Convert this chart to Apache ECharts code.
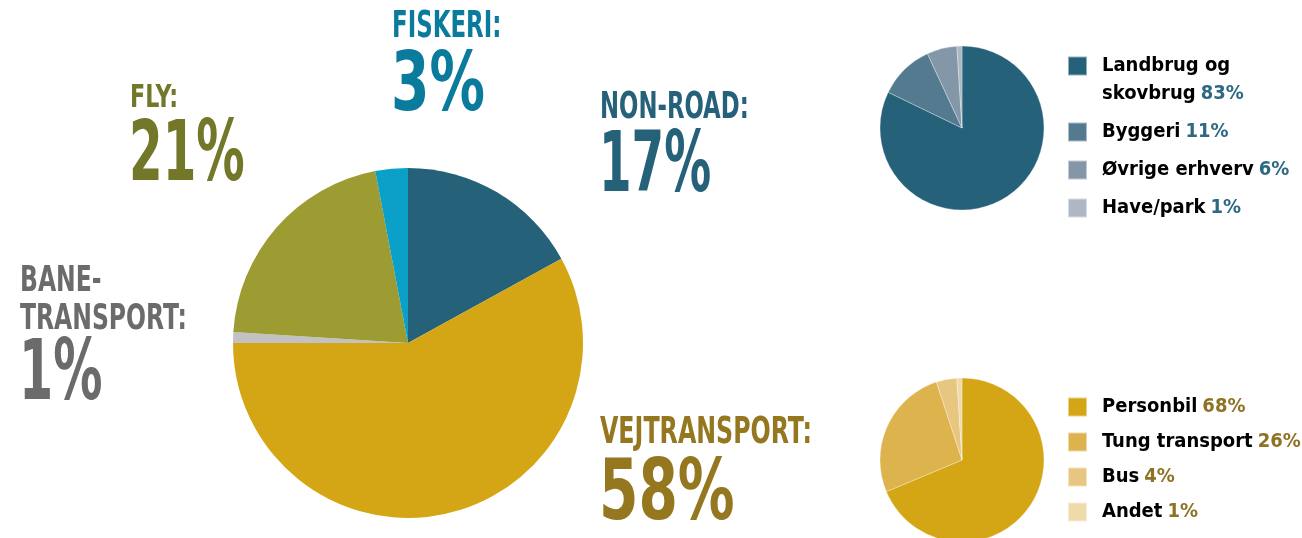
<!DOCTYPE html>
<html>
<head>
<meta charset="utf-8">
<script src="https://cdn.jsdelivr.net/npm/echarts@6/dist/echarts.min.js"></script>
<style>
  html, body { margin: 0; padding: 0; background: #fff; }
  #chart { width: 1302px; height: 538px; }
</style>
</head>
<body>
<div id="chart"></div>
<script>
// main pie: share of emissions per sector (%)
var mainNames = ['NON-ROAD', 'VEJTRANSPORT', 'BANETRANSPORT', 'FLY', 'FISKERI'];
var mainValues = [17, 58, 1, 21, 3];
var mainTitles = ['NON-ROAD:', 'VEJTRANSPORT:', 'BANE-\nTRANSPORT:', 'FLY:', 'FISKERI:'];

// non-road breakdown
var nonRoadNames = ['Landbrug og skovbrug', 'Byggeri', 'Øvrige erhverv', 'Have/park'];
var nonRoadValues = [83, 11, 6, 1];

// road transport breakdown
var roadNames = ['Personbil', 'Tung transport', 'Bus', 'Andet'];
var roadValues = [68, 26, 4, 1];

var mainColors = ['#26617a', '#d4a514', '#c2c2c2', '#9c9c32', '#0aa0c8'];
var mainTextColors = ['#26617a', '#94771f', '#6b6b6b', '#72772a', '#0a7b9c'];
var nonRoadColors = ['#26617a', '#547a90', '#8497a8', '#adb8c4'];
var roadColors = ['#d4a514', '#ddb34d', '#e7c67f', '#efdaaa'];

var FONT = "'Liberation Sans Narrow', 'DejaVu Sans Condensed', 'Roboto', sans-serif";

var chart = echarts.init(document.getElementById('chart'));

function pieData(names, values, colors) {
    return names.map(function (n, i) {
        return { name: n, value: values[i], itemStyle: { color: colors[i] } };
    });
}

// big sector labels: [index, x, titleCapCenterY, numberCapCenterY, titleSize, numSize, titleScale, numScale]
var labelPos = [
    [0, 600, 107, 162, 37, 84, 0.684, 0.62],
    [1, 600, 432, 490, 37, 84, 0.713, 0.75],
    [2, 20, 281, 370, 35, 84, 0.746, 0.65],
    [3, 130, 97, 151, 32, 84, 0.77, 0.64],
    [4, 392, 26, 81, 38, 82, 0.67, 0.75]
];

var graphics = [];
labelPos.forEach(function (p) {
    var i = p[0];
    var lines = mainTitles[i].split('\n').length;
    var lineH = p[4] * 1.06;
    graphics.push({
        type: 'text',
        x: p[1],
        y: p[2] + p[4] * 0.04 + (lines - 1) * lineH / 2,
        scaleX: p[6],
        style: {
            text: mainTitles[i],
            fill: mainTextColors[i],
            font: 'bold ' + p[4] + 'px ' + FONT,
            lineHeight: lineH,
            align: 'left',
            verticalAlign: 'middle'
        }
    });
    graphics.push({
        type: 'text',
        x: p[1] - 1,
        y: p[3] + p[5] * 0.09,
        scaleX: p[7],
        style: {
            text: mainValues[i] + '%',
            fill: mainTextColors[i],
            font: 'bold ' + p[5] + 'px ' + FONT,
            align: 'left',
            verticalAlign: 'middle'
        }
    });
});

function legendFormatter(names, values, firstSplit) {
    return function (name) {
        var i = names.indexOf(name);
        if (i === 0 && firstSplit) {
            var parts = name.split(' ');
            return '\n{n|' + parts.slice(0, 2).join(' ') + '}\n{n|' + parts.slice(2).join(' ') + '}{p|' + values[i] + '%}';
        }
        return '{n|' + name + '}{p|' + values[i] + '%}';
    };
}

function legendText(lineH, pctColor) {
    return {
        lineHeight: lineH,
        fontFamily: FONT,
        fontWeight: 'bold',
        fontSize: 20,
        color: '#000',
        rich: {
            n: { fontFamily: FONT, fontWeight: 'bold', fontSize: 20, color: '#000', lineHeight: lineH, padding: [0, 0, 0, 10] },
            p: { fontFamily: FONT, fontWeight: 'bold', fontSize: 20, color: pctColor, lineHeight: lineH, padding: [0, 0, 0, 5] }
        }
    };
}

var option = {
    animation: false,
    graphic: graphics,
    legend: [
        {
            data: nonRoadNames,
            orient: 'vertical',
            left: 1062,
            top: 19,
            icon: 'rect',
            itemWidth: 19,
            itemHeight: 19,
            itemGap: 10,
            selectedMode: false,
            formatter: legendFormatter(nonRoadNames, nonRoadValues, true),
            textStyle: legendText(28, '#2e6983')
        },
        {
            data: roadNames,
            orient: 'vertical',
            left: 1062,
            top: 390,
            icon: 'rect',
            itemWidth: 19,
            itemHeight: 19,
            itemGap: 11,
            selectedMode: false,
            formatter: legendFormatter(roadNames, roadValues, false),
            textStyle: legendText(24, '#8f7224')
        }
    ],
    series: [
        {
            name: 'Sektorer',
            type: 'pie',
            center: [408, 343],
            radius: [0, 175],
            startAngle: 90,
            clockwise: true,
            label: { show: false },
            labelLine: { show: false },
            emphasis: { disabled: true },
            itemStyle: { borderWidth: 0 },
            data: pieData(mainNames, mainValues, mainColors)
        },
        {
            name: 'Non-road',
            type: 'pie',
            center: [962, 128],
            radius: [0, 82],
            startAngle: 90,
            label: { show: false },
            labelLine: { show: false },
            emphasis: { disabled: true },
            itemStyle: { borderColor: 'rgba(255,255,255,0.5)', borderWidth: 0.6 },
            data: pieData(nonRoadNames, nonRoadValues, nonRoadColors)
        },
        {
            name: 'Vejtransport',
            type: 'pie',
            center: [962, 460],
            radius: [0, 82],
            startAngle: 90,
            label: { show: false },
            labelLine: { show: false },
            emphasis: { disabled: true },
            itemStyle: { borderColor: 'rgba(255,255,255,0.5)', borderWidth: 0.6 },
            data: pieData(roadNames, roadValues, roadColors)
        }
    ]
};

chart.setOption(option);
</script>
</body>
</html>
